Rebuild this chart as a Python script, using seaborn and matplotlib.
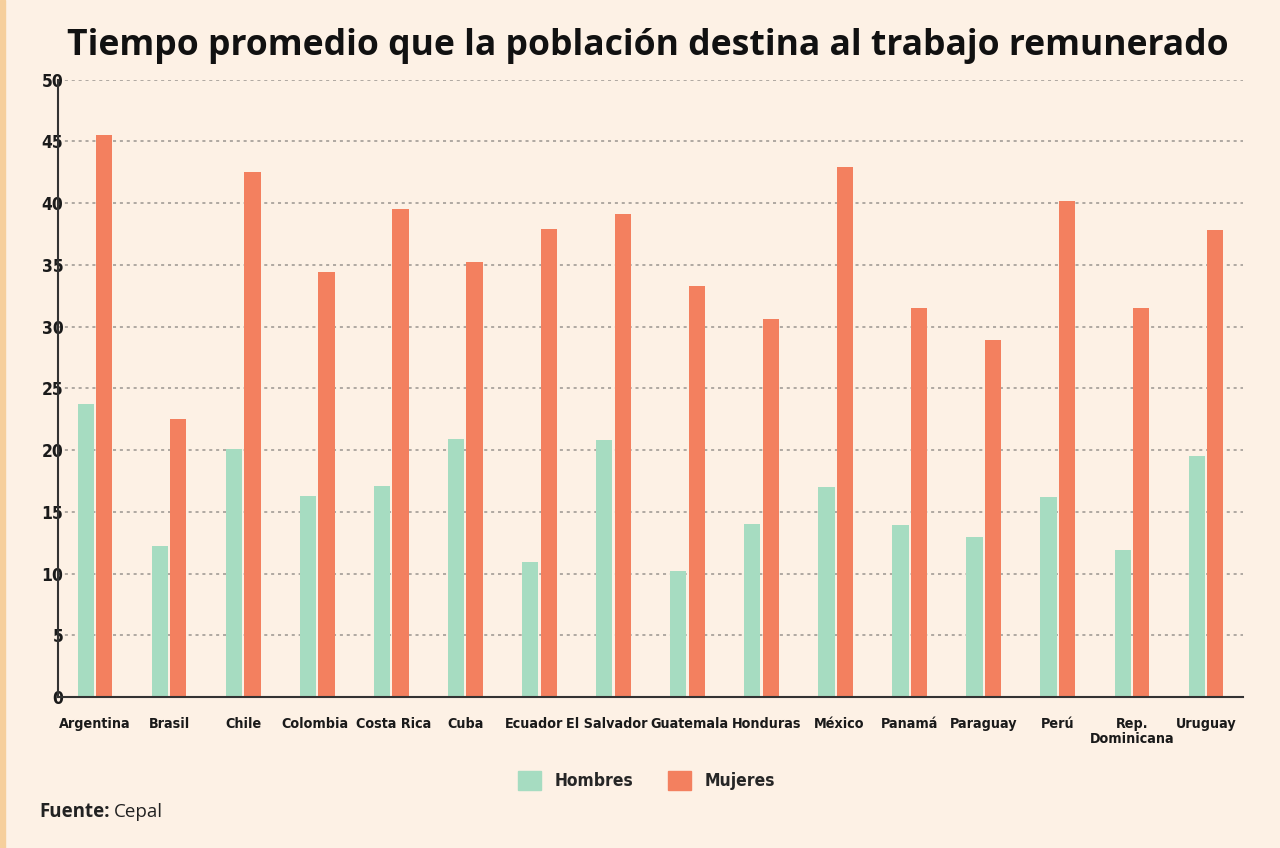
import matplotlib
matplotlib.use("Agg")
import matplotlib.pyplot as plt
import matplotlib.transforms as mtransforms
import numpy as np
import pandas as pd
import seaborn as sns

# datos (horas semanales)
paises = ["Argentina", "Brasil", "Chile", "Colombia", "Costa Rica", "Cuba",
          "Ecuador", "El Salvador", "Guatemala", "Honduras", "México", "Panamá",
          "Paraguay", "Perú", "Rep.\nDominicana", "Uruguay"]
hombres = [23.7, 12.2, 20.1, 16.3, 17.1, 20.9, 10.9, 20.8, 10.2, 14.0, 17.0,
           13.9, 13.0, 16.2, 11.9, 19.5]
mujeres = [45.5, 22.5, 42.5, 34.4, 39.5, 35.2, 37.9, 39.1, 33.3, 30.6, 42.9,
           31.5, 28.9, 40.2, 31.5, 37.8]
y_ticks = [0, 5, 10, 15, 20, 25, 30, 35, 40, 45, 50]

df = pd.DataFrame({
    "pais": paises * 2,
    "horas": hombres + mujeres,
    "sexo": ["Hombres"] * len(paises) + ["Mujeres"] * len(paises),
})

bg = "#fdf1e5"
verde = "#a6dcc1"
naranja = "#f3805f"

sns.set_theme(style="white")
plt.rcParams["font.family"] = ["DejaVu Sans"]

fig = plt.figure(figsize=(12.8, 8.48), dpi=100, facecolor=bg)
ax = fig.add_axes([0.0453, 0.178, 0.9258, 0.728])
ax.set_facecolor(bg)

sns.barplot(data=df, x="pais", y="horas", hue="sexo", order=paises,
            palette={"Hombres": verde, "Mujeres": naranja},
            width=0.5, gap=0.12, ax=ax, saturation=1, legend=False,
            linewidth=0)

ax.set_xlim(-0.5, len(paises) - 0.5)
ax.set_ylim(0, 50)
ax.set_yticks(y_ticks)
ax.set_xlabel("")
ax.set_ylabel("")

cond = dict(family=["DejaVu Sans"], fontstretch="condensed", fontweight="bold",
            color="#1a1a1a")
ax.set_yticklabels([str(v) for v in y_ticks], fontsize=12.5, **cond)
ax.set_xticks(range(len(paises)))
ax.set_xticklabels(paises, fontsize=10.3, linespacing=1.15, **cond)
ax.set_xticks(np.arange(-0.5, len(paises), 1), minor=True)
ax.tick_params(axis="x", which="major", length=0, pad=14)
ax.tick_params(axis="x", which="minor", length=8, width=1.2, color="#333333",
               direction="out")
ax.tick_params(axis="y", length=0, pad=-4)

# pequeños desplazamientos (px) para que las etiquetas no se toquen
desplaz = [0, 0, 0, -2, 2, 0, -5, -7, 2, 5, 3, 0, 0, 0, 0, 0]
for lab, dx in zip(ax.get_xticklabels(), desplaz):
    if dx:
        lab.set_transform(lab.get_transform() +
                          mtransforms.ScaledTranslation(dx / 100, 0, fig.dpi_scale_trans))

ax.yaxis.grid(True, linestyle=(0, (2, 2.5)), color="#9a9590", linewidth=1.1)
ax.set_axisbelow(True)
for s in ["top", "right"]:
    ax.spines[s].set_visible(False)
for s in ["left", "bottom"]:
    ax.spines[s].set_color("#333333")
    ax.spines[s].set_linewidth(1.5)

handles = [plt.Rectangle((0, 0), 1, 1, color=verde),
           plt.Rectangle((0, 0), 1, 1, color=naranja)]
leg = ax.legend(handles, ["Hombres", "Mujeres"], loc="center",
                bbox_to_anchor=(0.497, -0.135), ncol=2, frameon=False,
                handlelength=1.3, handleheight=1.3, handletextpad=0.8,
                columnspacing=2.0,
                prop={"family": "DejaVu Sans", "stretch": "condensed",
                      "weight": "bold", "size": 12.5})

fig.text(0.506, 0.946, "Tiempo promedio que la población destina al trabajo remunerado",
         ha="center", va="center", fontsize=25.6, fontweight="bold",
         family=["Open Sans", "DejaVu Sans"], color="#111111")
fig.text(0.031, 0.042, "Fuente:", ha="left", va="center", fontsize=13.5,
         fontweight="bold", family=["Open Sans", "DejaVu Sans"], color="#222222")
fig.text(0.089, 0.042, "Cepal", ha="left", va="center", fontsize=13.5,
         family=["Open Sans", "DejaVu Sans"], color="#222222")

# borde izquierdo
fig.patches.append(plt.Rectangle((0, 0), 0.004, 1, transform=fig.transFigure,
                                 color="#f6cf9c", zorder=0))

fig.savefig("out.png", dpi=100, facecolor=bg)
